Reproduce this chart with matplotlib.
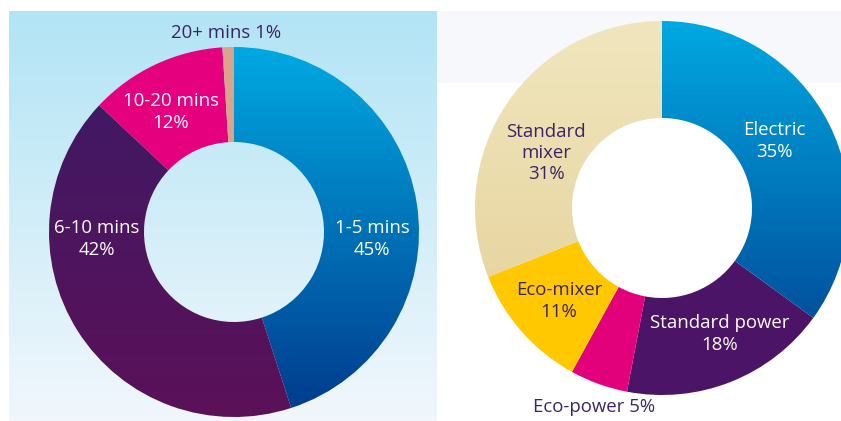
import numpy as np
import matplotlib
matplotlib.use("Agg")
import matplotlib.pyplot as plt
from matplotlib.colors import LinearSegmentedColormap
from matplotlib.patches import Rectangle

# ---- data ----
left_labels = ["1-5 mins", "6-10 mins", "10-20 mins", "20+ mins"]
left_values = [45, 42, 12, 1]
right_labels = ["Electric", "Standard power", "Eco-power", "Eco-mixer", "Standard mixer"]
right_values = [35, 18, 5, 11, 31]

plt.rcParams['font.family'] = ['Open Sans', 'DejaVu Sans']

W, H = 841, 421
fig = plt.figure(figsize=(W / 100, H / 100), dpi=100)
ax = fig.add_axes([0, 0, 1, 1])

def Y(ypx):
    return H - ypx

def vgrad(top, bottom, extent, clip=None, z=1):
    cmap = LinearSegmentedColormap.from_list("g", [top, bottom])
    grad = np.linspace(0, 1, 256).reshape(-1, 1)
    im = ax.imshow(grad, cmap=cmap, extent=extent, origin='upper',
                   aspect='auto', zorder=z, interpolation='bilinear')
    if clip is not None:
        im.set_clip_path(clip)
    return im

# backgrounds
vgrad("#b2e4f5", "#f1f7fc", (9, 437, Y(421), Y(11)), z=0)
ax.add_patch(Rectangle((437, Y(83)), W - 437, 72, facecolor="#f7f8fb",
                       edgecolor='none', zorder=0))

# ---- left donut ----
lc = (234, Y(232)); lr = 185; lw = 95
left_colors = ["#0066b8", "#4b1866", "#e5007d", "#d9a48a"]
wl, _ = ax.pie(left_values, startangle=90, counterclock=False, center=lc,
               radius=lr, colors=left_colors,
               wedgeprops=dict(width=lw, edgecolor='none', linewidth=0))
for w in wl:
    w.set_zorder(2)
ext_l = (lc[0] - lr, lc[0] + lr, lc[1] - lr, lc[1] + lr)
wl[0].set_facecolor('none')
vgrad("#00a9e2", "#003a8c", ext_l, clip=wl[0], z=2)
wl[1].set_facecolor('none')
vgrad("#3d1a66", "#5b1158", ext_l, clip=wl[1], z=2)

# ---- right donut ----
rc = (662, Y(208)); rr = 187; rw = 97
right_colors = ["#0066b8", "#4b1466", "#e2007b", "#ffc800", "#ead9a4"]
wr, _ = ax.pie(right_values, startangle=90, counterclock=False, center=rc,
               radius=rr, colors=right_colors,
               wedgeprops=dict(width=rw, edgecolor='none', linewidth=0))
for w in wr:
    w.set_zorder(2)
ext_r = (rc[0] - rr, rc[0] + rr, rc[1] - rr, rc[1] + rr)
wr[0].set_facecolor('none')
vgrad("#00a9e2", "#003a8c", ext_r, clip=wr[0], z=2)
wr[4].set_facecolor('none')
vgrad("#f0e6be", "#e4cf95", ext_r, clip=wr[4], z=2)

ax.set_xlim(0, W)
ax.set_ylim(0, H)
ax.set_aspect('equal')
ax.axis('off')

# ---- labels ----
fs = 13.4
dark = "#3b2466"
def lab(x, ypx, s, color):
    ax.text(x, Y(ypx), s, ha='center', va='center', fontsize=fs, color=color,
            zorder=5, linespacing=1.22)

lab(226, 33, f"{left_labels[3]} {left_values[3]}%", dark)
lab(171, 112, f"{left_labels[2]}\n{left_values[2]}%", "white")
lab(97, 239, f"{left_labels[1]}\n{left_values[1]}%", "white")
lab(372, 239, f"{left_labels[0]}\n{left_values[0]}%", "white")

lab(546, 153, "Standard\nmixer\n" + f"{right_values[4]}%", dark)
lab(774, 141, f"{right_labels[0]}\n{right_values[0]}%", "white")
lab(559, 301, f"{right_labels[3]}\n{right_values[3]}%", dark)
lab(720, 334, f"{right_labels[1]}\n{right_values[1]}%", "white")
lab(594, 407, f"{right_labels[2]} {right_values[2]}%", dark)

fig.savefig("out.png", dpi=100)
